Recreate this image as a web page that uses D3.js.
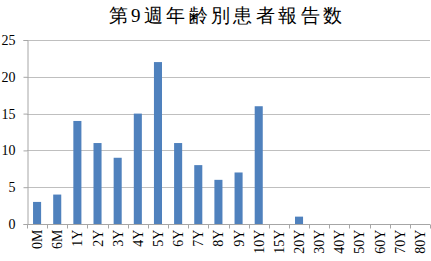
<!DOCTYPE html>
<html>
<head>
<meta charset="utf-8">
<script src="https://cdn.jsdelivr.net/npm/d3@7"></script>
<style>
  body { margin: 0; background: #fff; }
</style>
</head>
<body>
<svg id="chart" width="431" height="261"></svg>
<script>
// category labels and report counts
var categories = ['0M', '6M', '1Y', '2Y', '3Y', '4Y', '5Y', '6Y', '7Y', '8Y', '9Y', '10Y',
                  '15Y', '20Y', '30Y', '40Y', '50Y', '60Y', '70Y', '80Y'];
var counts = [3, 4, 14, 11, 9, 15, 22, 11, 8, 6, 7, 16, 0, 1, 0, 0, 0, 0, 0, 0];
var yTicks = [0, 5, 10, 15, 20, 25];
var title = '第9週年齢別患者報告数';

var FONT = "'Liberation Serif', 'Times New Roman', 'DejaVu Serif', serif";

var svg = d3.select('#chart');
var margin = {left: 27, right: 1, top: 40, bottom: 37};
var width = 431 - margin.left - margin.right;
var height = 261 - margin.top - margin.bottom;

var x = d3.scaleBand().domain(categories).range([0, width]).paddingInner(0.6).paddingOuter(0.3);
var y = d3.scaleLinear().domain([0, 25]).range([height, 0]);

svg.append('text')
    .attr('x', 227).attr('y', 22)
    .attr('text-anchor', 'middle')
    .attr('font-family', FONT)
    .attr('font-size', 19)
    .style('letter-spacing', '3.4px')
    .text(title);

var g = svg.append('g').attr('transform', 'translate(' + margin.left + ',' + margin.top + ')');

// horizontal gridlines
g.selectAll('line.grid')
    .data(yTicks.filter(function(d) { return d > 0; }))
    .enter().append('line')
    .attr('class', 'grid')
    .attr('x1', 0).attr('x2', width)
    .attr('y1', function(d) { return Math.round(y(d)) + 0.5; })
    .attr('y2', function(d) { return Math.round(y(d)) + 0.5; })
    .attr('stroke', '#bfbfbf');

// y axis
var yAxis = g.append('g')
    .attr('transform', 'translate(0.5,0)')
    .call(d3.axisLeft(y).tickValues(yTicks).tickSize(4).tickPadding(8));
yAxis.attr('font-family', FONT).attr('font-size', 14);
yAxis.select('.domain').attr('stroke', '#a6a6a6');
yAxis.selectAll('.tick line').attr('stroke', '#a6a6a6');
yAxis.selectAll('.tick text').attr('fill', '#000');

// bars
g.selectAll('rect.bar')
    .data(counts)
    .enter().append('rect')
    .attr('class', 'bar')
    .attr('x', function(d, i) { return x(categories[i]); })
    .attr('width', x.bandwidth())
    .attr('y', function(d) { return y(d); })
    .attr('height', function(d) { return height - y(d); })
    .attr('fill', '#4f81bd');

// x axis with ticks between categories
var xAxis = g.append('g')
    .attr('transform', 'translate(0,' + (Math.round(height) + 0.5) + ')')
    .attr('font-family', FONT)
    .attr('font-size', 14);
xAxis.append('line').attr('x1', 0).attr('x2', width).attr('stroke', '#a6a6a6');
xAxis.selectAll('line.tk')
    .data(d3.range(categories.length + 1))
    .enter().append('line')
    .attr('class', 'tk')
    .attr('x1', function(i) { return Math.round(i * width / categories.length) + 0.5; })
    .attr('x2', function(i) { return Math.round(i * width / categories.length) + 0.5; })
    .attr('y1', 0).attr('y2', 4)
    .attr('stroke', '#a6a6a6');
xAxis.selectAll('text')
    .data(categories)
    .enter().append('text')
    .attr('transform', function(d) {
        return 'translate(' + (x(d) + x.bandwidth() / 2 + 5) + ',5) rotate(-90)';
    })
    .attr('text-anchor', 'end')
    .text(function(d) { return d; });
</script>
</body>
</html>
